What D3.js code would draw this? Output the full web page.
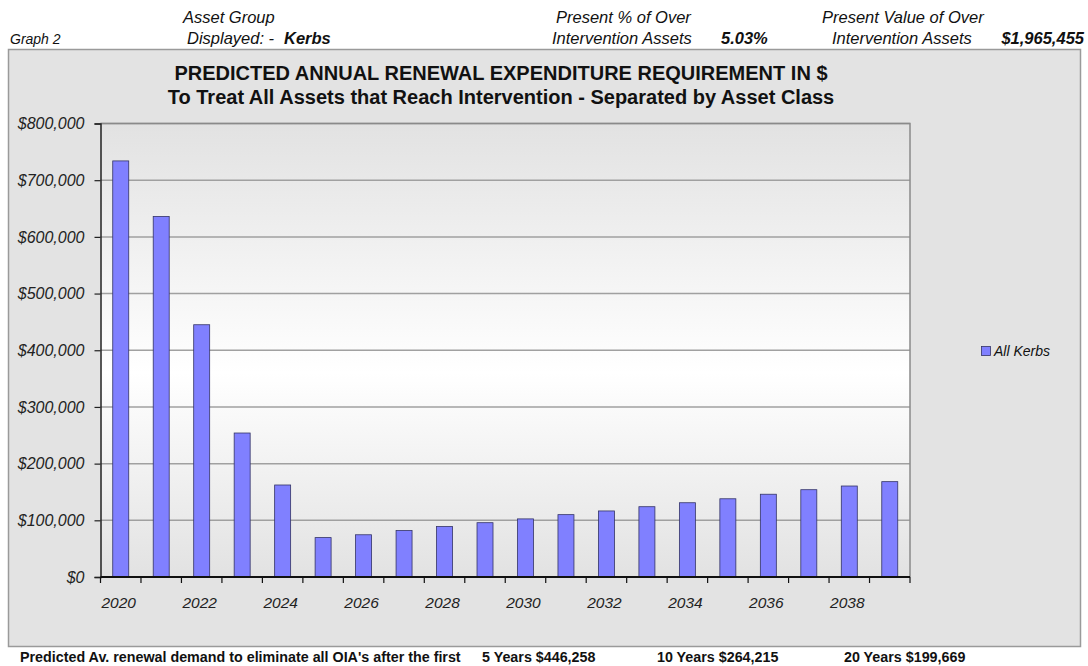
<!DOCTYPE html>
<html><head><meta charset="utf-8">
<script src="https://cdn.jsdelivr.net/npm/d3@7"></script>
<style>
body{margin:0;background:#fff;font-family:"Liberation Sans",Arial,sans-serif;}
svg{display:block;}
</style></head>
<body><svg id="c" width="1088" height="666"></svg>
<script>
const years = ["2020","2021","2022","2023","2024","2025","2026","2027","2028","2029","2030","2031","2032","2033","2034","2035","2036","2037","2038","2039"];
const allKerbs = [734000,636000,445000,254000,162300,69500,74500,82000,89000,95800,102500,110000,116500,124000,131000,138000,146000,154000,160500,168200];
const yTicks = [0,100000,200000,300000,400000,500000,600000,700000,800000];
const xLabelYears = ["2020","2022","2024","2026","2028","2030","2032","2034","2036","2038"];
const seriesName = "All Kerbs";
const titleLines = ["PREDICTED ANNUAL RENEWAL EXPENDITURE REQUIREMENT IN $","To Treat All Assets that Reach Intervention - Separated by Asset Class"];
const footerItems = [["Predicted Av. renewal demand to eliminate all OIA's after the first",20],["5 Years $446,258",482],["10 Years $264,215",657],["20 Years $199,669",844]];

const svg = d3.select("#c");
const font = '"Liberation Sans",Arial,sans-serif';

// outer panel
svg.append("rect").attr("x",8.5).attr("y",49.5).attr("width",1072).attr("height",597)
  .attr("fill","#e3e3e3").attr("stroke","#9a9a9a").attr("stroke-width",1.5);

const L=100.5, R=910, T=123.5, B=577;
const x = d3.scaleBand().domain(years).range([L,R]).paddingInner(0.605).paddingOuter(0.3025);
const xb = d3.scaleBand().domain(years).range([L,R]);
const y = d3.scaleLinear().domain([0,800000]).range([B,T]);

const defs = svg.append("defs");
const g = defs.append("linearGradient").attr("id","bg").attr("x1",0).attr("y1",0).attr("x2",0).attr("y2",1);
g.append("stop").attr("offset","0%").attr("stop-color","#e2e2e2");
g.append("stop").attr("offset","55%").attr("stop-color","#ffffff");
g.append("stop").attr("offset","100%").attr("stop-color","#e2e2e2");

svg.append("rect").attr("x",L).attr("y",T).attr("width",R-L).attr("height",B-T).attr("fill","url(#bg)");

// gridlines
svg.append("g").selectAll("line").data(yTicks.filter(d=>d>0)).join("line")
  .attr("x1",L).attr("x2",R).attr("y1",d=>y(d)).attr("y2",d=>y(d))
  .attr("stroke","#a0a0a0").attr("stroke-width",1.5);

// plot border (top/right)
svg.append("path").attr("d",`M${L},${T}H${R}V${B}`).attr("fill","none").attr("stroke","#8a8a8a").attr("stroke-width",1.5);

// bars
svg.append("g").selectAll("rect").data(years).join("rect")
  .attr("x",d=>x(d)).attr("width",x.bandwidth())
  .attr("y",(d,i)=>y(allKerbs[i])).attr("height",(d,i)=>B-y(allKerbs[i]))
  .attr("fill","#8080ff").attr("stroke","#333366").attr("stroke-width",0.8);

// y axis
const ya = svg.append("g").attr("transform",`translate(${L},0)`)
  .call(d3.axisLeft(y).tickValues(yTicks).tickSize(6).tickPadding(10).tickFormat(d=>"$"+d3.format(",")(d)));
ya.select(".domain").attr("stroke","#222").attr("stroke-width",1.5);
ya.selectAll(".tick line").attr("stroke","#222").attr("stroke-width",1.2);
ya.selectAll("text").attr("font-family",font).attr("font-style","italic").attr("font-size",16).attr("fill","#222");

// x axis
const xa = svg.append("g").attr("transform",`translate(0,${B})`);
xa.append("line").attr("x1",L).attr("x2",R).attr("y1",0).attr("y2",0).attr("stroke","#111").attr("stroke-width",2);
const tickPos = years.map(d=>xb(d)).concat([xb(years[years.length-1])+xb.bandwidth()]);
xa.selectAll("line.t").data(tickPos).join("line").attr("class","t")
  .attr("x1",d=>d).attr("x2",d=>d).attr("y1",0).attr("y2",6).attr("stroke","#111").attr("stroke-width",1.2);
xa.selectAll("text").data(xLabelYears).join("text")
  .attr("x",d=>xb(d)+xb.bandwidth()/2-2).attr("y",31).attr("text-anchor","middle")
  .attr("font-family",font).attr("font-style","italic").attr("font-size",15.5).attr("fill","#222").text(d=>d);

// title
svg.append("g").selectAll("text").data(titleLines).join("text")
  .attr("x",501).attr("y",(d,i)=>80+i*24).attr("text-anchor","middle")
  .attr("font-family",font).attr("font-weight","bold").attr("font-size",20).attr("fill","#111").text(d=>d);

// legend
svg.append("rect").attr("x",981.5).attr("y",346.5).attr("width",9).attr("height",9)
  .attr("fill","#8080ff").attr("stroke","#333366").attr("stroke-width",0.8);
svg.append("text").attr("x",994).attr("y",356).attr("font-family",font).attr("font-style","italic")
  .attr("font-size",14).attr("fill","#111").text(seriesName);

// header
function t(txt,xx,yy,opt={}){
  svg.append("text").attr("x",xx).attr("y",yy).attr("font-family",font).attr("font-style","italic")
   .attr("font-size",opt.size||16.5).attr("font-weight",opt.bold?"bold":"normal")
   .attr("text-anchor",opt.anchor||"start").attr("fill","#111").text(txt);
}
t("Graph 2",10,44,{size:14});
t("Asset Group",183,23);
t("Displayed: -",187,44);
t("Kerbs",284,44,{bold:true});
t("Present % of Over",556,23);
t("Intervention Assets",552,44);
t("5.03%",721,44,{bold:true});
t("Present Value of Over",822,23);
t("Intervention Assets",832,44);
t("$1,965,455",1084,44,{bold:true,anchor:"end"});

// footer
svg.append("g").selectAll("text").data(footerItems).join("text")
  .attr("x",d=>d[1]).attr("y",662).attr("font-family",font).attr("font-weight","bold")
  .attr("font-size",14.3).attr("fill","#111").text(d=>d[0]);
</script></body></html>
